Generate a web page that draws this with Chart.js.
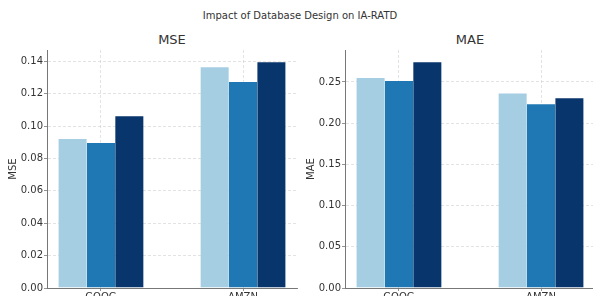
<!DOCTYPE html>
<html>
<head>
<meta charset="utf-8">
<script src="https://cdn.jsdelivr.net/npm/chart.js@4/dist/chart.umd.min.js"></script>
<style>
  html, body { margin: 0; padding: 0; background: #fff; overflow: hidden; }
  body { width: 593px; height: 296px; position: relative; font-family: "DejaVu Sans", sans-serif; color: #333; }
  .title { position: absolute; left: 0; width: 600px; top: 10px; text-align: center; font-size: 10px; }
  .sub { position: absolute; top: 32px; width: 250px; text-align: center; font-size: 13px; }
  .box { position: absolute; top: 0; width: 300px; height: 310px; }
</style>
</head>
<body>
<div class="title">Impact of Database Design on IA-RATD</div>
<div class="sub" style="left:47px">MSE</div>
<div class="sub" style="left:345px">MAE</div>
<div class="box" style="left:0"><canvas id="mse_canvas"></canvas></div>
<div class="box" style="left:298px"><canvas id="mae_canvas"></canvas></div>
<script>
var categories = ['GOOG', 'AMZN'];
var designs = ['Design 1', 'Design 2', 'Design 3'];
var colorsTable = ['#a6cee3', '#1f78b4', '#08356b'];

// values per design, one entry per category
var mseValues = [
    [0.0927, 0.1370],
    [0.0902, 0.1278],
    [0.1067, 0.1400]
];
var maeValues = [
    [0.2560, 0.2372],
    [0.2523, 0.2243],
    [0.2750, 0.2316]
];
var mseTicks = { max: 0.147, step: 0.02 };
var maeTicks = { max: 0.2888, step: 0.05 };

function makeChart(id, values, yLabel, tickInfo) {
    var ctx = document.getElementById(id).getContext('2d');
    var gridColor = 'rgba(190,190,190,0.55)';
    return new Chart(ctx, {
        type: 'bar',
        data: {
            datasets: designs.map(function (name, d) {
                return {
                    label: name,
                    data: categories.map(function (c, i) { return { x: i, y: values[d][i] }; }),
                    backgroundColor: colorsTable[d],
                    borderColor: 'rgba(255,255,255,0.3)',
                    borderWidth: { top: 1, left: 0, right: 0, bottom: 0 },
                    barPercentage: 1,
                    categoryPercentage: 0.6
                };
            })
        },
        options: {
            responsive: true,
            maintainAspectRatio: false,
            animation: false,
            layout: { padding: { top: 50, right: 3, left: 0, bottom: 0 } },
            plugins: { legend: { display: false }, tooltip: { enabled: false } },
            scales: {
                x: {
                    type: 'linear',
                    min: -0.38,
                    max: 1.38,
                    offset: false,
                    z: 1,
                    afterBuildTicks: function (scale) {
                        scale.ticks = categories.map(function (c, i) { return { value: i }; });
                    },
                    afterFit: function (scale) { scale.height = 22; },
                    ticks: {
                        callback: function (v) { return categories[v]; },
                        color: '#333',
                        font: { family: 'DejaVu Sans', size: 10 },
                        padding: 0,
                        maxRotation: 0
                    },
                    grid: {
                        offset: false,
                        color: gridColor,
                        lineWidth: 0.8,
                        tickLength: 3,
                        tickColor: '#777'
                    },
                    border: { color: '#777', width: 1, dash: [3, 2] }
                },
                y: {
                    min: 0,
                    max: tickInfo.max,
                    z: 1,
                    afterFit: function (scale) { scale.width = 47; },
                    ticks: {
                        stepSize: tickInfo.step,
                        includeBounds: false,
                        color: '#333',
                        font: { family: 'DejaVu Sans', size: 10 },
                        padding: 1,
                        callback: function (v) { return v.toFixed(2); }
                    },
                    grid: {
                        color: gridColor,
                        lineWidth: 0.8,
                        tickLength: 3,
                        tickColor: '#777'
                    },
                    border: { color: '#777', width: 1, dash: [3, 2] },
                    title: {
                        display: true,
                        text: yLabel,
                        color: '#333',
                        font: { family: 'DejaVu Sans', size: 10 },
                        padding: { top: 7, bottom: 0 }
                    }
                }
            }
        }
    });
}

makeChart('mse_canvas', mseValues, 'MSE', mseTicks);
makeChart('mae_canvas', maeValues, 'MAE', maeTicks);
</script>
</body>
</html>
